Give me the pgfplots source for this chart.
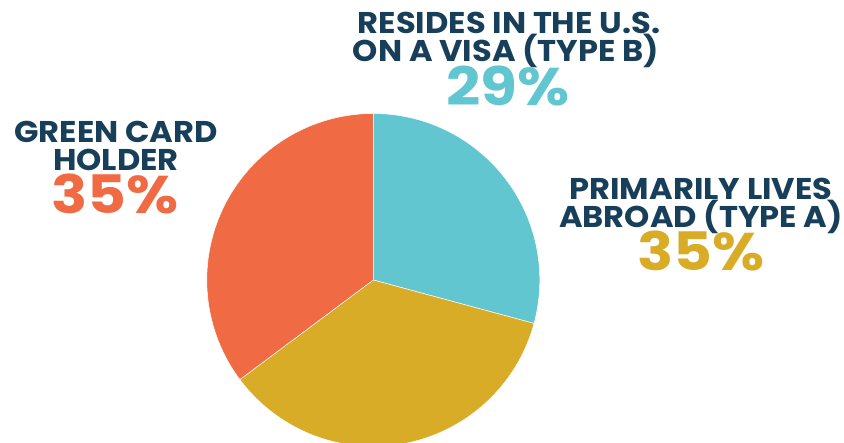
\documentclass[border=0pt]{standalone}
\usepackage{graphicx}
\usepackage{pgfplots}
\pgfplotsset{compat=1.18}
\usepackage{fontspec}
\setmainfont{Poppins}
\definecolor{cteal}{HTML}{62C6D1}
\definecolor{cgold}{HTML}{D9AC28}
\definecolor{corange}{HTML}{F06B43}
\definecolor{cnavy}{HTML}{173F5A}
% shares (percent)
\def\pTeal{29.2}
\def\pGold{35.6}
\def\pOrange{35.2}
\def\cx{373.3}
\def\cy{163}
\def\rr{166.5}
\pgfmathsetmacro{\aA}{90}
\pgfmathsetmacro{\aB}{\aA-3.6*\pTeal}
\pgfmathsetmacro{\aC}{\aB-3.6*\pGold}
\pgfmathsetmacro{\aD}{\aC-3.6*\pOrange}
\newcommand{\lbl}[1]{\scalebox{1.07}[1]{\bfseries\fontsize{30}{30}\selectfont #1}}
\newcommand{\pct}[1]{\scalebox{1.13}[1]{\bfseries\fontsize{53}{53}\selectfont #1}}
\tikzset{lb/.style={anchor=base, text=cnavy, inner sep=0pt, text height=21pt, text depth=2pt}}
\begin{document}
\begin{tikzpicture}
\begin{axis}[
  scale only axis, width=844pt, height=443pt,
  xmin=0, xmax=844, ymin=0, ymax=443,
  hide axis, clip=true,
]
\addplot[fill=cteal, draw=white, line width=0.5pt, domain=\aB:\aA, samples=120]
  ({\cx+\rr*cos(x)},{\cy+\rr*sin(x)}) -- (axis cs:\cx,\cy) -- cycle;
\addplot[fill=cgold, draw=white, line width=0.5pt, domain=\aC:\aB, samples=120]
  ({\cx+\rr*cos(x)},{\cy+\rr*sin(x)}) -- (axis cs:\cx,\cy) -- cycle;
\addplot[fill=corange, draw=white, line width=0.5pt, domain=\aD:\aC, samples=120]
  ({\cx+\rr*cos(x)},{\cy+\rr*sin(x)}) -- (axis cs:\cx,\cy) -- cycle;
% top label
\node[lb] at (axis cs:509,409) {\lbl{RESIDES IN THE U.S.}};
\node[lb] at (axis cs:506,381) {\lbl{ON A VISA (TYPE B)}};
\node[anchor=base, text=cteal, inner sep=0pt] at (axis cs:508,337) {\pct{29\%}};
% left label
\node[lb] at (axis cs:116,300.5) {\lbl{GREEN CARD}};
\node[lb] at (axis cs:116,272.5) {\lbl{HOLDER}};
\node[anchor=base, text=corange, inner sep=0pt] at (axis cs:115,229) {\pct{35\%}};
% right label
\node[lb] at (axis cs:701,243) {\lbl{PRIMARILY LIVES}};
\node[lb] at (axis cs:701,215) {\lbl{ABROAD (TYPE A)}};
\node[anchor=base, text=cgold, inner sep=0pt] at (axis cs:701,172) {\pct{35\%}};
\end{axis}
\pgfresetboundingbox
\path[use as bounding box] (current axis.south west) rectangle (current axis.north east);
\end{tikzpicture}
\end{document}
